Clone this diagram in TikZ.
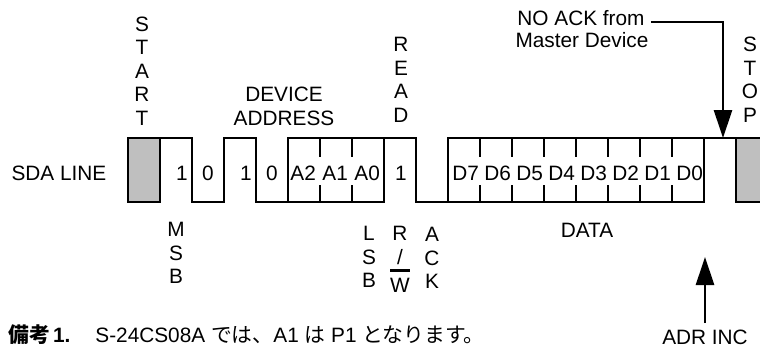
\documentclass[tikz,border=0pt]{standalone}
\usepackage{fontspec}
\setmainfont{Liberation Sans}
\newfontfamily\jpfont{Noto Sans CJK JP}
\usetikzlibrary{arrows.meta}
\definecolor{boxgray}{gray}{0.75}
\newcommand{\ja}[1]{{\jpfont #1}}
\newcommand{\barW}{\vbox{\hrule height 1.1pt\kern 3.4pt\hbox{W}}}

\begin{document}
\begin{tikzpicture}[
  x=0.5pt, y=-0.5pt,
  every node/.style={font=\fontsize{10.4pt}{11.75pt}\selectfont},
  lbl/.style={inner sep=0pt},
  vlbl/.style={lbl, align=center, anchor=north},
  wbit/.style={lbl, anchor=west},
  note/.style={lbl, anchor=base west},
  wave/.style={draw, line width=1.25pt},
  ptr/.style={draw, line width=1.35pt, -{Triangle[length=14pt,width=9pt]}}
]
\useasboundingbox (0,0) rectangle (760,348);

% --- start / stop boxes ---
\fill[boxgray] (128,138) rectangle (160,202);
\draw[wave] (128,138) rectangle (160,202);
\fill[boxgray] (736,138) rectangle (760,202);
\draw[wave] (760,138) -- (736,138) -- (736,202) -- (760,202);

% --- SDA waveform ---
\draw[wave] (160,138) -- (192,138) -- (192,202) -- (224,202) -- (224,138)
  -- (256,138) -- (256,202) -- (384,202) -- (384,138);
\draw[wave] (288,202) -- (288,138) -- (416,138) -- (416,202) -- (704,202) -- (704,138);
\draw[wave] (448,202) -- (448,138) -- (736,138);

% --- cell dividers (gap for text) ---
\draw[wave] (320,138)--(320,157) (320,185)--(320,202);
\draw[wave] (352,138)--(352,157) (352,185)--(352,202);
\draw[wave] (480,138)--(480,157) (480,185)--(480,202);
\draw[wave] (512,138)--(512,157) (512,185)--(512,202);
\draw[wave] (544,138)--(544,157) (544,185)--(544,202);
\draw[wave] (576,138)--(576,157) (576,185)--(576,202);
\draw[wave] (608,138)--(608,157) (608,185)--(608,202);
\draw[wave] (640,138)--(640,157) (640,185)--(640,202);
\draw[wave] (672,138)--(672,157) (672,185)--(672,202);

% --- bit texts ---
\node[lbl] (sda) at (59,173.5) {SDA LINE};
\node[lbl] (b7) at (182,173.5) {1};
\node[lbl] (b6) at (208,173.5) {0};
\node[lbl] (b5) at (246,173.5) {1};
\node[lbl] (b4) at (272,173.5) {0};
\node[wbit] (a2) at (290,173.5) {A2};
\node[wbit] (a1) at (322,173.5) {A1};
\node[wbit] (a0) at (354,173.5) {A0};
\node[lbl] (rd) at (401,173.5) {1};

\node[wbit] (d7) at (452,173.5) {D7};
\node[wbit] (d6) at (484,173.5) {D6};
\node[wbit] (d5) at (516,173.5) {D5};
\node[wbit] (d4) at (548,173.5) {D4};
\node[wbit] (d3) at (580,173.5) {D3};
\node[wbit] (d2) at (612,173.5) {D2};
\node[wbit] (d1) at (644,173.5) {D1};
\node[wbit] (d0) at (676,173.5) {D0};

% --- labels above ---
\node[vlbl] (start) at (142,16.5) {S\\T\\A\\R\\T};
\node[vlbl] (devaddr) at (284,87) {DEVICE\\ADDRESS};
\node[vlbl] (read) at (401,37) {R\\E\\A\\D};
\node[vlbl] (stop) at (750,37) {S\\T\\O\\P};
\node[lbl, inner xsep=3pt] (noack) at (581,18.5) {NO ACK from};
\node[lbl] (master) at (582,40.5) {Master Device};

% --- labels below ---
\node[vlbl] (msb) at (176,222) {M\\S\\B};
\node[vlbl] (lsb) at (369,226) {L\\S\\B};
\node[vlbl] (rw) at (400,226) {R\\/\\[1.5pt]\barW};
\node[vlbl] (ack) at (432,227) {A\\C\\K};
\node[vlbl] (data) at (587,223) {DATA};
\node (adr) at (705,337.5) {ADR INC};

% --- pointers ---
\coordinate (ackin) at (723,138);
\coordinate (adrtip) at (705,257);
\draw[ptr] ([yshift=-1.7pt]noack.east) -| (ackin);
\draw[ptr] (adr.north) -- (adrtip);

% --- remark ---
\node[note] (remark) at (8,342) {\textbf{\ja{備考}\hspace{1.5pt}1.}};
\node[note] (remtext) at (95,342) {S-24CS08A \ja{では、}A1 \ja{は} P1 \ja{となります。}};

\end{tikzpicture}
\end{document}
